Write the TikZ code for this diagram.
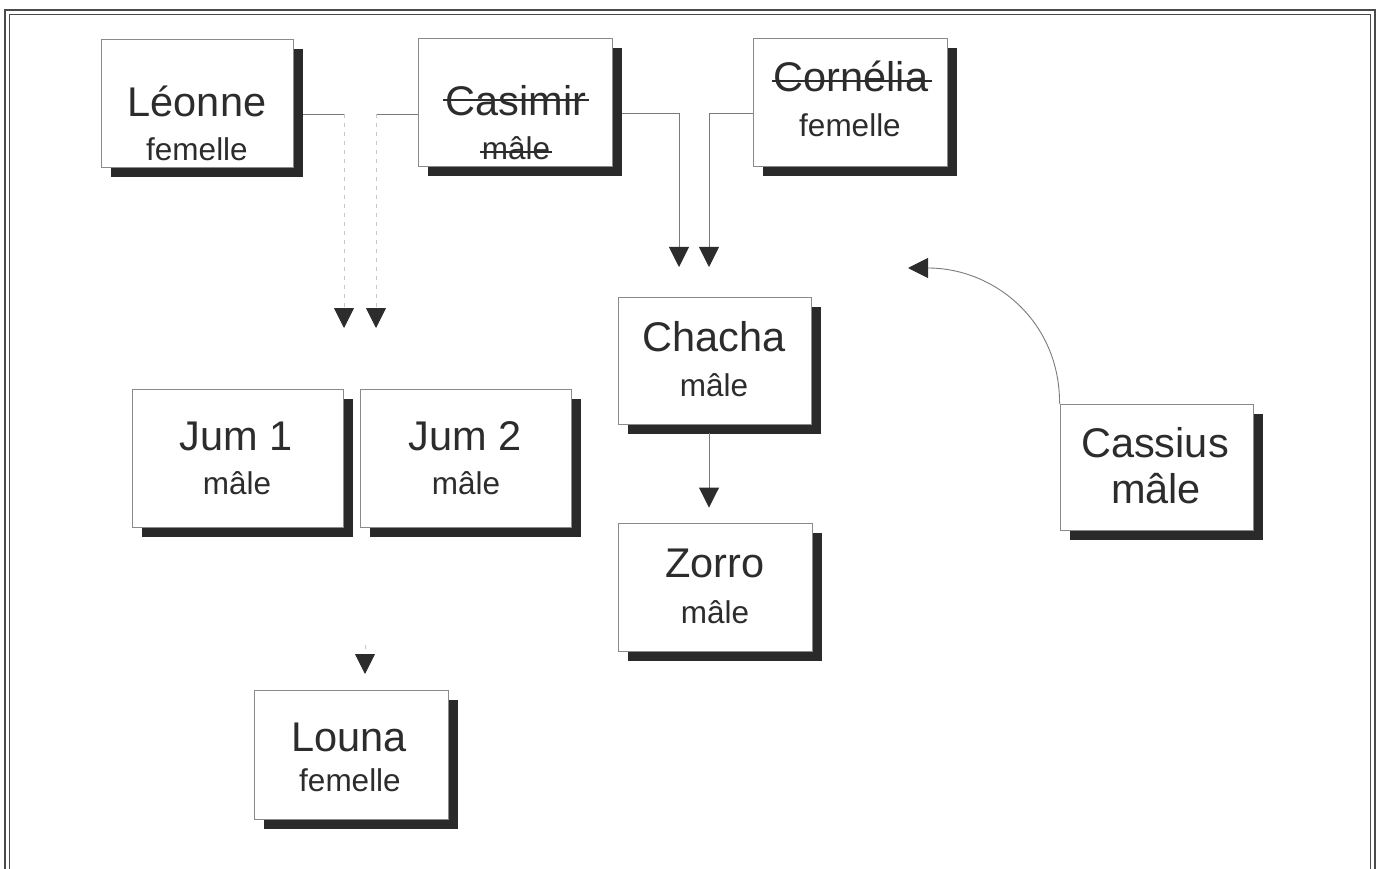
\documentclass[tikz,border=0pt]{standalone}
\usepackage{fontspec}
\setmainfont{Liberation Sans}
\usetikzlibrary{arrows.meta,shadows,calc}
\definecolor{ink}{HTML}{2C2C2C}
\definecolor{shade}{HTML}{2A2A2A}
\definecolor{rim}{HTML}{8A8A8A}
\definecolor{wire}{HTML}{7A7A7A}
\definecolor{faintwire}{HTML}{C8C8C8}
\definecolor{framec}{HTML}{4A4A4A}

\begin{document}
\begin{tikzpicture}[x=1pt,y=-1pt,
  famcard/.style={draw=rim, line width=0.9pt, fill=white, inner sep=0pt,
     drop shadow={shadow xshift=10pt, shadow yshift=-10pt, fill=shade, opacity=1}},
  bigname/.style={inner sep=0pt, anchor=base, text=ink, font=\fontsize{41.5}{48}\selectfont},
  smallname/.style={inner sep=0pt, anchor=base, text=ink, font=\fontsize{31.5}{36}\selectfont},
  link/.style={draw=wire, line width=0.9pt},
  faintlink/.style={draw=faintwire, line width=0.9pt, dash pattern=on 4pt off 5pt},
  tip/.style={-{Triangle[length=20pt,width=20pt,color=ink,fill=ink]}},
  strike/.style={draw=ink, line width=2pt}
]
\useasboundingbox (0,0) rectangle (1382,869);
\clip (0,0) rectangle (1382,869);

% page frame (double rule, open at the bottom edge)
\draw[framec, line width=1.8pt] (5,900) -- (5,10) -- (1375,10) -- (1375,900);
\draw[framec, line width=1.8pt] (9.5,900) -- (9.5,14.5) -- (1370.5,14.5) -- (1370.5,900);

% cards
\node[famcard, minimum width=192pt, minimum height=128pt] (leonne)   at (197,103)   {};
\node[famcard, minimum width=194pt, minimum height=128pt] (casimir)  at (515,102)   {};
\node[famcard, minimum width=194pt, minimum height=128pt] (cornelia) at (850,102)   {};
\node[famcard, minimum width=193pt, minimum height=127pt] (chacha)   at (714.5,360.5) {};
\node[famcard, minimum width=211pt, minimum height=138pt] (jumA)     at (237.5,458) {};
\node[famcard, minimum width=211pt, minimum height=138pt] (jumB)     at (465.5,458) {};
\node[famcard, minimum width=194pt, minimum height=128pt] (zorro)    at (715,587)   {};
\node[famcard, minimum width=193pt, minimum height=126pt] (cassius)  at (1156.5,467) {};
\node[famcard, minimum width=194pt, minimum height=129pt] (louna)    at (351,754.5) {};

% names and sexes
\node[bigname]   (leonneN)   at (197,117) {Léonne};
\node[smallname] (leonneS)   at (197,161) {femelle};
\node[bigname]   (casimirN)  at (516,116) {Casimir};
\node[smallname] (casimirS)  at (516,160) {mâle};
\node[bigname]   (corneliaN) at (851,92)  {Cornélia};
\node[smallname] (corneliaS) at (850,137) {femelle};
\node[bigname]   (chachaN)   at (714,351) {Chacha};
\node[smallname] (chachaS)   at (714,396) {mâle};
\node[bigname]   (jumAN)     at (236,450) {Jum 1};
\node[smallname] (jumAS)     at (237,494) {mâle};
\node[bigname]   (jumBN)     at (465,450) {Jum 2};
\node[smallname] (jumBS)     at (466,494) {mâle};
\node[bigname]   (zorroN)    at (715,577) {Zorro};
\node[smallname] (zorroS)    at (715,623) {mâle};
\node[bigname]   (cassiusN)  at (1155,457) {Cassius};
\node[bigname]   (cassiusS)  at (1156,503) {mâle};
\node[bigname]   (lounaN)    at (349,751) {Louna};
\node[smallname] (lounaS)    at (350,791) {femelle};

% deceased: struck through
\draw[strike] ($(casimirN.base west)+(-2,-16)$) -- ($(casimirN.base east)+(2,-16)$);
\draw[strike] ($(casimirS.base west)+(-2,-8)$) -- ($(casimirS.base east)+(2,-8)$);
\draw[strike] ($(corneliaN.base west)+(-2,-11)$) -- ($(corneliaN.base east)+(4,-11)$);

% junction points and free arrow ends
\coordinate (leonneknee)  at (344,114);
\coordinate (casimirknee) at (376,114);
\coordinate (twinA)       at (344,328);
\coordinate (twinB)       at (376,328);
\coordinate (casimirdrop) at (679,113);
\coordinate (corneliadrop) at (709,113);
\coordinate (chachaA)     at (679,267);
\coordinate (chachaB)     at (709,267);
\coordinate (lounastub)   at (365,645);
\coordinate (lounaaim)    at (365,674);
\coordinate (cassiusaim)  at (908,268);

% Léonne x Casimir -> twins
\draw[link] ($(leonne.east)+(10,11)$) -- (leonneknee);
\draw[faintlink,tip] (leonneknee) -- (twinA);
\draw[link] ($(casimir.west)+(0,12)$) -- (casimirknee);
\draw[faintlink,tip] (casimirknee) -- (twinB);

% Casimir x Cornélia -> Chacha
\draw[link,tip] ($(casimir.east)+(10,11)$) -- (casimirdrop) -- (chachaA);
\draw[link,tip] ($(cornelia.west)+(0,11)$) -- (corneliadrop) -- (chachaB);

% Chacha -> Zorro
\draw[link,tip] ($(chacha.south)+(-5.5,9)$) -- ($(zorro.north)+(-6,-15)$);

% twins -> Louna
\draw[faintlink,tip] (lounastub) -- (lounaaim);

% Cassius
\draw[link,tip] (cassius.north west) .. controls (1060,322) and (995,268) .. (cassiusaim);
\end{tikzpicture}
\end{document}
